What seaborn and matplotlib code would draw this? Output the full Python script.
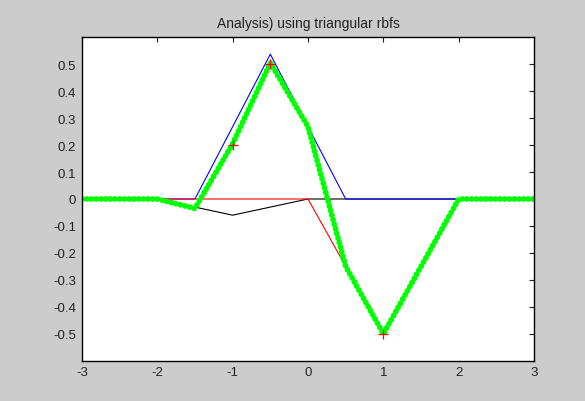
import matplotlib
matplotlib.use("Agg")
import matplotlib.pyplot as plt
import seaborn as sns

# knots of the triangular rbfs (x) and the curve values
x_knots = [-3, -2, -1.5, -1, -0.5, 0, 0.5, 1, 2, 3]
blue_y = [0, 0, 0, 0.268, 0.537, 0.268, 0, 0, 0, 0]
black_y = [0, 0, -0.03, -0.06, -0.03, 0, 0, 0, 0, 0]
red_y = [0, 0, 0, 0, 0, 0, -0.25, -0.5, 0, 0]
green_y = [0, 0, -0.035, 0.205, 0.505, 0.268, -0.25, -0.5, 0, 0]

# sample points (red plus signs)
pts_x = [-1, -0.5, 1]
pts_y = [0.2, 0.5, -0.5]

sns.set_style("white")
plt.rcParams['font.family'] = ['Liberation Sans', 'DejaVu Sans']
plt.rcParams['axes.unicode_minus'] = False

fig = plt.figure(figsize=(5.85, 4.02), dpi=100, facecolor="#cccccc")
ax = fig.add_axes([0.140, 0.100, 0.773, 0.805])
ax.set_facecolor("white")

sns.lineplot(x=x_knots, y=black_y, color="black", linewidth=0.8, ax=ax, estimator=None)
sns.lineplot(x=x_knots, y=blue_y, color="#0000ff", linewidth=0.8, ax=ax, estimator=None)
sns.lineplot(x=x_knots, y=red_y, color="#ff0000", linewidth=0.8, ax=ax, estimator=None)
sns.lineplot(x=x_knots, y=green_y, color="#00ff00", linewidth=4.2, ax=ax,
             estimator=None, linestyle=(0, (0.01, 0.8)),
             dash_capstyle="round", solid_capstyle="round")
sns.scatterplot(x=pts_x, y=pts_y, marker="+", color="#ff0000", s=60,
                linewidth=0.9, ax=ax, zorder=5)

ax.set_xlim(-3, 3)
ax.set_ylim(-0.6, 0.6)
ax.set_xticks([-3, -2, -1, 0, 1, 2, 3])
ax.set_yticks([-0.5, -0.4, -0.3, -0.2, -0.1, 0, 0.1, 0.2, 0.3, 0.4, 0.5])
ax.set_yticklabels(["-0.5", "-0.4", "-0.3", "-0.2", "-0.1", "0",
                    "0.1", "0.2", "0.3", "0.4", "0.5"])
ax.tick_params(direction="in", length=3.5, width=0.8, top=True, right=True,
               labelsize=9.5, colors="#222222", pad=4)
for s in ax.spines.values():
    s.set_visible(True)
    s.set_color("black")
    s.set_linewidth(1.0)

ax.set_title("Analysis) using triangular rbfs", fontsize=10, pad=7, color="#222222")

fig.savefig("out.png", dpi=100, facecolor=fig.get_facecolor())
